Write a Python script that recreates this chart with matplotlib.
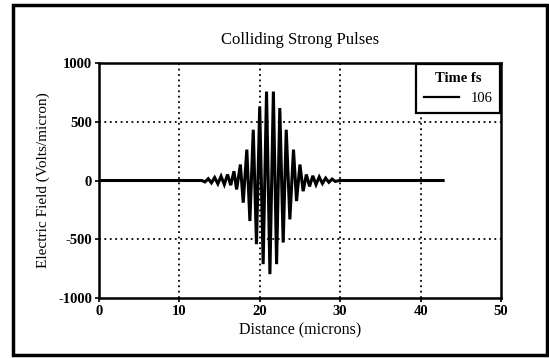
import numpy as np
import matplotlib.pyplot as plt
from matplotlib.patches import Rectangle

# positions (microns) and field values (Volts/micron)
pulse_x = [0.0, 12.8,
           13.2, 13.6, 14.0, 14.4, 14.8, 15.2, 15.6, 16.0, 16.4, 16.8,
           17.13, 17.6, 17.95, 18.4, 18.78, 19.2, 19.6, 20.0, 20.43, 20.85,
           21.27, 21.7, 22.1, 22.5, 22.92, 23.3, 23.75, 24.2, 24.58, 25.0,
           25.4, 25.8, 26.2, 26.6, 27.0, 27.4, 27.8, 28.2, 28.6, 29.0, 29.4,
           29.9, 42.8]
pulse_y = [0, 0,
           -12, 15, -20, 25, -28, 36, -34, 51, -40, 79,
           -76, 136, -189, 263, -345, 432, -542, 630, -712, 757,
           -797, 757, -712, 617, -528, 432, -331, 263, -175, 136,
           -91, 51, -50, 40, -35, 30, -25, 20, -15, 12, -8,
           0, 0]

x_ticks = [0, 10, 20, 30, 40, 50]
y_ticks = [-1000, -500, 0, 500, 1000]
legend_title = 'Time fs'
legend_label = '106'

plt.rcParams['font.family'] = 'Liberation Serif'
plt.rcParams['axes.unicode_minus'] = False

fig = plt.figure(figsize=(5.49, 3.58), dpi=100)
ax = fig.add_axes([0.18, 0.1676, 0.7326, 0.6564])

ax.plot(pulse_x, pulse_y, color='black', lw=2.2, label=legend_label,
        solid_joinstyle='miter')

ax.set_xlim(0, 50)
ax.set_ylim(-1000, 1000)
ax.set_xticks(x_ticks)
ax.set_yticks(y_ticks)
ax.tick_params(direction='out', length=3, width=1.2, labelsize=10.5, pad=2)
for lab in ax.get_xticklabels() + ax.get_yticklabels():
    lab.set_fontweight('bold')

# dotted grid, skipping the frame edges and the zero line
for xv in x_ticks[1:-1]:
    ax.axvline(xv, color='black', ls=(0, (1, 2)), lw=1.3, zorder=0)
for yv in [-500, 500]:
    ax.axhline(yv, color='black', ls=(0, (1, 2)), lw=1.3, zorder=0)

for s in ax.spines.values():
    s.set_linewidth(1.8)

ax.set_title('Colliding Strong Pulses', fontsize=12, pad=14)
ax.set_xlabel('Distance (microns)', fontsize=11.5, labelpad=3)
ax.set_ylabel('Electric Field (Volts/micron)', fontsize=11, labelpad=6)

leg = ax.legend(title=legend_title, loc='upper right', borderaxespad=0.1,
                fancybox=False, edgecolor='black', fontsize=10.5,
                handlelength=2.4, framealpha=1, borderpad=0.5)
leg.get_title().set_fontweight('bold')
leg.get_title().set_fontsize(10.5)
leg.get_frame().set_linewidth(1.6)
leg.get_lines()[0].set_linewidth(1.6)

# outer border round the whole figure
fig.patches.append(Rectangle((0.0237, 0.0084), 0.9727, 0.9776, transform=fig.transFigure,
                             fill=False, edgecolor='black', lw=2.5))

fig.savefig('out.png', dpi=100)
